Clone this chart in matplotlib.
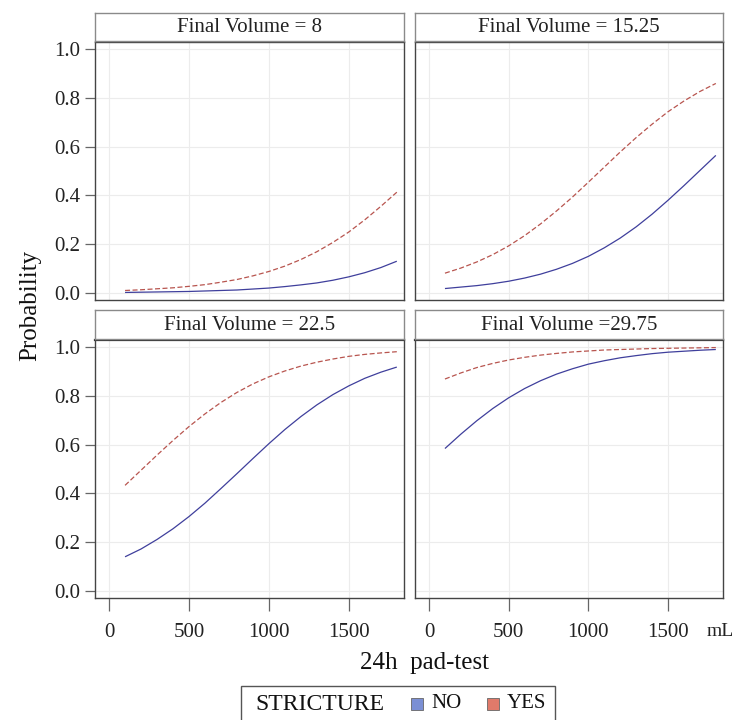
import matplotlib
matplotlib.use("Agg")
import matplotlib.pyplot as plt
from matplotlib.patches import Rectangle

plt.rcParams['font.family'] = ['Liberation Serif', 'DejaVu Serif']

pad_test = [100, 200, 300, 400, 500, 600, 700, 800, 900, 1000,
            1100, 1200, 1300, 1400, 1500, 1600, 1700, 1800]

final_volumes = ["8", "15.25", "22.5", "29.75"]
strip_labels = ["Final Volume = 8", "Final Volume = 15.25",
                "Final Volume = 22.5", "Final Volume =29.75"]

no_fv8 = [0.002, 0.003, 0.004, 0.005, 0.006, 0.008, 0.010, 0.012, 0.016,
          0.020, 0.026, 0.033, 0.041, 0.052, 0.066, 0.083, 0.104, 0.130]
yes_fv8 = [0.010, 0.013, 0.017, 0.021, 0.027, 0.034, 0.044, 0.055, 0.070,
           0.088, 0.110, 0.137, 0.169, 0.207, 0.250, 0.300, 0.355, 0.413]
no_fv15 = [0.018, 0.024, 0.030, 0.038, 0.048, 0.061, 0.077, 0.097, 0.121,
           0.150, 0.185, 0.225, 0.271, 0.323, 0.380, 0.440, 0.502, 0.564]
yes_fv15 = [0.081, 0.102, 0.127, 0.157, 0.193, 0.235, 0.283, 0.336, 0.393,
            0.454, 0.516, 0.578, 0.637, 0.692, 0.743, 0.787, 0.826, 0.859]
no_fv22 = [0.140, 0.172, 0.211, 0.255, 0.305, 0.360, 0.420, 0.481, 0.543,
           0.604, 0.662, 0.715, 0.763, 0.805, 0.841, 0.872, 0.897, 0.918]
yes_fv22 = [0.433, 0.495, 0.557, 0.617, 0.674, 0.726, 0.773, 0.814, 0.849,
            0.878, 0.902, 0.922, 0.938, 0.951, 0.962, 0.970, 0.976, 0.981]
no_fv29 = [0.584, 0.643, 0.698, 0.748, 0.792, 0.830, 0.862, 0.889, 0.911,
           0.930, 0.944, 0.956, 0.965, 0.973, 0.979, 0.983, 0.987, 0.990]
yes_fv29 = [0.869, 0.894, 0.916, 0.933, 0.947, 0.958, 0.967, 0.974, 0.980,
            0.984, 0.988, 0.990, 0.992, 0.994, 0.995, 0.996, 0.997, 0.998]

no_series = [no_fv8, no_fv15, no_fv22, no_fv29]
yes_series = [yes_fv8, yes_fv15, yes_fv22, yes_fv29]

x_ticks = [0, 500, 1000, 1500]
y_ticks = [0.0, 0.2, 0.4, 0.6, 0.8, 1.0]

legend_title = "STRICTURE"
legend_labels = ["NO", "YES"]

W, H = 740, 720
fig = plt.figure(figsize=(W / 100, H / 100), dpi=100)

def fx(px):
    return px / W

def fy(py):
    return 1 - py / H

cols = [(95, 404), (415, 723)]
rows = [((13, 41), (42, 300)), ((310, 339), (340, 598))]

no_color = '#3f3f9c'
yes_color = '#b8554f'
frame_color = '#444444'

for i in range(4):
    r, c = divmod(i, 2)
    (sy0, sy1), (ay0, ay1) = rows[r]
    x0, x1 = cols[c]
    ax = fig.add_axes([fx(x0), fy(ay1), fx(x1) - fx(x0), fy(ay0) - fy(ay1)])
    ax.plot(pad_test, no_series[i], color=no_color, lw=0.9, solid_capstyle='butt')
    ax.plot(pad_test, yes_series[i], color=yes_color, lw=0.9, ls=(0, (4, 2)))
    ax.set_xlim(-88, 1845)
    ax.set_ylim(-0.029, 1.029)
    ax.set_xticks(x_ticks)
    ax.set_yticks(y_ticks)
    ax.grid(True, color='#ececec', lw=0.8)
    ax.set_axisbelow(True)
    for s in ax.spines.values():
        s.set_color(frame_color)
        s.set_linewidth(1.0)
    if r == 0:
        ax.spines['top'].set_linewidth(1.0)
    else:
        ax.spines['top'].set_linewidth(1.6)
        ax.spines['top'].set_color('#333333')
    # x ticks
    if r == 1:
        ax.tick_params(axis='x', direction='out', length=9, width=0.9,
                       color='#666666', pad=9, labelsize=15, labelcolor='#222222')
    else:
        ax.tick_params(axis='x', length=0, labelbottom=False)
    # y ticks
    if c == 0:
        ax.tick_params(axis='y', direction='out', length=7.5, width=0.9,
                       color='#666666', pad=3, labelsize=15, labelcolor='#222222')
        ax.set_yticklabels([f"{v:.1f}" for v in y_ticks])
    else:
        ax.tick_params(axis='y', length=0, labelleft=False)

    # strip
    sax = fig.add_axes([fx(x0), fy(sy1), fx(x1) - fx(x0), fy(sy0) - fy(sy1)])
    sax.set_xticks([])
    sax.set_yticks([])
    for s in sax.spines.values():
        s.set_color('#8a8a8a')
        s.set_linewidth(1.0)
    sax.text(0.5, 0.47, strip_labels[i], ha='center', va='center',
             fontsize=15, color='#222222', transform=sax.transAxes)

# "mL" unit label
fig.text(fx(720), fy(632), "mL", ha='center', va='center', fontsize=14, color='#222222')

# axis labels
fig.text(fx(30), fy(305), "Probability", rotation=90, ha='center', va='center',
         fontsize=18, color='#111111')
fig.text(fx(424), fy(663), "24h  pad-test", ha='center', va='center',
         fontsize=18, color='#111111')

# legend box
fig.patches.append(Rectangle((fx(241), fy(721)), fx(555) - fx(241), fy(686) - fy(721),
                             transform=fig.transFigure, facecolor='white',
                             edgecolor='#555555', lw=1.0))
fig.text(fx(255), fy(704), legend_title, ha='left', va='center', fontsize=17, color='#111111')
leg_colors = ['#7b8fd4', '#e07a6a']
leg_x = [411, 487]
for lx, lab, col in zip(leg_x, legend_labels, leg_colors):
    fig.patches.append(Rectangle((fx(lx), fy(710)), fx(12), 12 / H,
                                 transform=fig.transFigure, facecolor=col,
                                 edgecolor='#666666', lw=0.6))
    fig.text(fx(lx + 20), fy(704), lab, ha='left', va='center', fontsize=15, color='#111111')

fig.savefig("out.png", dpi=100, facecolor='white')
